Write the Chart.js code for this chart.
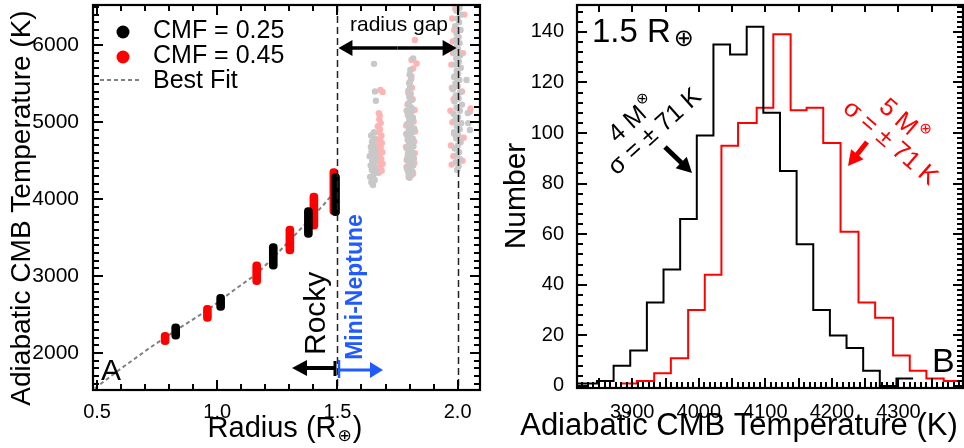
<!DOCTYPE html>
<html>
<head>
<meta charset="utf-8">
<title>Adiabatic CMB temperature</title>
<script src="https://cdn.jsdelivr.net/npm/chart.js@4.4.1/dist/chart.umd.min.js"></script>
<style>
  body { margin: 0; background: #fff; }
  #panels { position: relative; width: 964px; height: 448px; }
  canvas { position: absolute; top: 0; }
  #panelA { left: 0; }
  #panelB { left: 490px; }
</style>
</head>
<body>
<div id="panels">
  <canvas id="panelA" width="490" height="448"></canvas>
  <canvas id="panelB" width="474" height="448"></canvas>
</div>
<script>
// ---------- panel A: CMB temperature vs radius ----------
const radiusTicks = [0.5, 1.0, 1.5, 2.0];
const radiusTickLabels = ['0.5', '1.0', '1.5', '2.0'];
const tempTicks = [2000, 3000, 4000, 5000, 6000];
const gapRadius = [1.5, 2.0];

// rocky planets: spread of CMB temperature at each radius
const cmf25Radius = [0.827, 1.014, 1.233, 1.379, 1.492];
const cmf25Low = [2180, 2555, 3090, 3505, 3785];
const cmf25High = [2380, 2765, 3425, 3890, 4335];
const cmf45Radius = [0.783, 0.959, 1.164, 1.302, 1.402, 1.485];
const cmf45Low = [2110, 2410, 2890, 3290, 3610, 3800];
const cmf45High = [2270, 2620, 3185, 3650, 4080, 4400];

// best fit curve
const fitRadius = [0.49, 0.60, 0.72, 0.83, 0.96, 1.07, 1.16, 1.23, 1.30, 1.37, 1.44, 1.50];
const fitTemp = [1540, 1800, 2070, 2300, 2560, 2820, 3020, 3230, 3460, 3690, 3920, 4140];

// mini-Neptunes (faded): CMF = 0.25 grey, CMF = 0.45 pink
const greyPoints = [
  [1.648, 4185], [1.641, 4220], [1.655, 4250], [1.636, 4290], [1.650, 4320], [1.662, 4350],
  [1.643, 4380], [1.657, 4410], [1.638, 4440], [1.651, 4470], [1.645, 4500], [1.660, 4530],
  [1.634, 4560], [1.653, 4590], [1.642, 4620], [1.658, 4650], [1.639, 4680], [1.649, 4710],
  [1.644, 4750], [1.655, 4790], [1.640, 4830], [1.652, 4870], [1.660, 5280], [1.656, 5400],
  [1.652, 5760],
  [1.800, 4280], [1.806, 4310], [1.795, 4340], [1.812, 4360], [1.790, 4390], [1.803, 4410],
  [1.815, 4440], [1.797, 4460], [1.808, 4490], [1.788, 4510], [1.818, 4530], [1.801, 4560],
  [1.793, 4590], [1.811, 4610], [1.804, 4640], [1.789, 4660], [1.816, 4690], [1.798, 4710],
  [1.807, 4740], [1.792, 4770], [1.813, 4790], [1.800, 4820], [1.786, 4850], [1.810, 4870],
  [1.796, 4900], [1.819, 4920], [1.803, 4950], [1.791, 4980], [1.809, 5000], [1.799, 5030],
  [1.814, 5060], [1.794, 5090], [1.806, 5120], [1.788, 5150], [1.811, 5180], [1.801, 5210],
  [1.796, 5250], [1.808, 5290], [1.799, 5330], [1.805, 5370], [1.795, 5410], [1.802, 5460],
  [1.798, 5510], [1.806, 5560], [1.800, 5620], [1.803, 5680], [1.815, 5830],
  [1.998, 4380], [2.004, 4430], [1.992, 4480], [2.010, 4520], [1.996, 4570], [2.006, 4610],
  [1.988, 4660], [2.001, 4700], [2.012, 4740], [1.994, 4790], [2.003, 4830], [1.985, 4870],
  [2.008, 4910], [1.997, 4950], [2.015, 4990], [1.990, 5030], [2.002, 5070], [1.983, 5110],
  [2.009, 5150], [1.995, 5190], [2.018, 5230], [1.987, 5270], [2.004, 5310], [1.993, 5350],
  [2.011, 5390], [1.980, 5430], [2.000, 5470], [1.991, 5510], [2.007, 5550], [1.985, 5590],
  [2.002, 5630], [1.996, 5670], [2.013, 5710], [1.989, 5750], [2.005, 5790], [1.994, 5830],
  [2.010, 5870], [1.986, 5910], [2.001, 5950], [1.998, 5990], [2.008, 6030], [1.992, 6070],
  [2.004, 6110], [1.996, 6150], [2.012, 6200], [1.990, 6250], [2.006, 6300], [1.999, 6350],
  [2.015, 6400], [1.995, 6450], [2.008, 6490],
  [2.037, 5550], [2.044, 4990], [2.051, 4900], [2.042, 5120]
];
const pinkPoints = [
  [1.672, 4345], [1.684, 4370], [1.667, 4400], [1.679, 4430], [1.688, 4460], [1.670, 4490],
  [1.682, 4520], [1.665, 4550], [1.676, 4580], [1.687, 4610], [1.669, 4640], [1.680, 4670],
  [1.673, 4700], [1.685, 4730], [1.666, 4760], [1.678, 4790], [1.683, 4830], [1.671, 4870],
  [1.677, 4910], [1.668, 4950], [1.680, 4990], [1.674, 5040], [1.676, 5090], [1.672, 5120],
  [1.679, 5420], [1.688, 5395],
  [1.796, 4290], [1.815, 4330], [1.787, 4420], [1.820, 4470], [1.792, 4550], [1.822, 4600],
  [1.785, 4680], [1.819, 4750], [1.790, 4830], [1.823, 4880], [1.786, 4960], [1.817, 5010],
  [1.793, 5100], [1.821, 5160], [1.791, 5230], [1.813, 5300], [1.795, 5380], [1.810, 5450],
  [1.801, 5520], [1.808, 5600], [1.815, 5700], [1.808, 5810], [1.829, 5765], [1.822, 6070],
  [1.975, 4450], [1.982, 4560], [1.972, 4700], [1.985, 4850], [1.978, 5000], [1.970, 5150],
  [1.983, 5300], [1.976, 5450], [1.988, 5600], [1.974, 5750], [1.981, 5900], [1.979, 6050],
  [1.986, 6200], [1.977, 6350], [1.990, 6480], [2.020, 4500], [2.025, 4800], [2.018, 5400],
  [2.022, 5900], [2.051, 5140], [2.054, 5180], [2.028, 6400]
];

// ---------- panel B: histograms at 1.5 Earth radii ----------
const histTempTicks = [3900, 4000, 4100, 4200, 4300];
const countTicks = [0, 20, 40, 60, 80, 100, 120, 140];
const mass4Edges = [3797, 3822, 3847, 3872, 3897, 3922, 3947, 3972, 3997, 4022, 4047,
  4072, 4097, 4122, 4147, 4172, 4197, 4222, 4247, 4272, 4297, 4322];
const mass4Counts = [1, 1, 2, 8, 14, 33, 46, 66, 99, 135, 131, 142, 108, 85, 56, 30, 20, 15, 6, 0, 3];
const mass5Edges = [3883, 3907, 3933, 3958, 3984, 4009, 4034, 4059, 4087, 4112, 4138,
  4162, 4187, 4213, 4240, 4265, 4292, 4317, 4342, 4368, 4393];
const mass5Counts = [1, 2, 5, 11, 30, 44, 95, 104, 110, 139, 109, 110, 96, 61, 33, 27, 12, 6, 3, 2];

const FAMILY = '"Liberation Sans", Arial, Helvetica, sans-serif';
const SYMBOLS = '"DejaVu Sans", sans-serif';
const font = (size, bold) => (bold ? 'bold ' : '') + size + 'px ' + FAMILY;
const symFont = size => size + 'px ' + SYMBOLS;

// step outline of a histogram: one point per bin edge
function steps(edges, counts) {
  return edges.map((e, i) => ({ x: e, y: counts[Math.min(i, counts.length - 1)] }));
}

// fixed axis box, no extra room for half labels at the ends
function fixBox(size, horizontal) {
  return s => {
    if (horizontal) s.height = size; else s.width = size;
    s.paddingTop = 0; s.paddingBottom = 0; s.paddingLeft = 0; s.paddingRight = 0;
  };
}

function axis(min, max, values, labels, size, pad, fit) {
  return {
    type: 'linear', min: min, max: max, offset: false, beginAtZero: false,
    grid: { display: false, offset: false },
    border: { display: false },
    afterBuildTicks: s => { s.ticks = values.map(v => ({ value: v })); },
    afterFit: fit,
    ticks: {
      autoSkip: false, maxRotation: 0, padding: pad, color: '#000',
      font: { family: FAMILY, size: size },
      callback: (v, i) => labels[i]
    }
  };
}

// text made of pieces (for sub/superscripts), optionally rotated
function richText(ctx, parts, x, y, angle, align) {
  ctx.save();
  ctx.translate(x, y);
  ctx.rotate(angle || 0);
  ctx.textAlign = 'left';
  let w = 0;
  parts.forEach(p => { ctx.font = p.font; p.w = ctx.measureText(p.text).width + (p.gap || 0); w += p.w; });
  let cx = align === 'center' ? -w / 2 : (align === 'right' ? -w : 0);
  parts.forEach(p => {
    ctx.font = p.font;
    ctx.fillText(p.text, cx + (p.gap || 0), p.dy || 0);
    cx += p.w;
  });
  ctx.restore();
}

function arrow(ctx, x0, y0, x1, y1, color, width, headLen, headHalf) {
  const a = Math.atan2(y1 - y0, x1 - x0);
  const bx = x1 - headLen * Math.cos(a), by = y1 - headLen * Math.sin(a);
  ctx.save();
  ctx.strokeStyle = color; ctx.fillStyle = color; ctx.lineWidth = width; ctx.setLineDash([]);
  ctx.beginPath(); ctx.moveTo(x0, y0); ctx.lineTo(bx + Math.cos(a), by + Math.sin(a)); ctx.stroke();
  ctx.beginPath(); ctx.moveTo(x1, y1);
  ctx.lineTo(bx - headHalf * Math.sin(a), by + headHalf * Math.cos(a));
  ctx.lineTo(bx + headHalf * Math.sin(a), by - headHalf * Math.cos(a));
  ctx.closePath(); ctx.fill();
  ctx.restore();
}

const isMul = (v, m) => Math.abs(v / m - Math.round(v / m)) < 1e-6;

// inward tick marks along one side of the frame
function tickMarks(ctx, scale, step, isMajor, edge, dir, horizontal, lenMajor, lenMinor) {
  const n0 = Math.ceil(scale.min / step - 1e-6), n1 = Math.floor(scale.max / step + 1e-6);
  ctx.save();
  ctx.fillStyle = '#000';
  for (let k = n0; k <= n1; k++) {
    const v = k * step;
    const p = Math.round(scale.getPixelForValue(v));
    const len = isMajor(v) ? lenMajor : lenMinor;
    if (horizontal) ctx.fillRect(p - 1, dir > 0 ? edge : edge - len, 2, len);
    else ctx.fillRect(dir > 0 ? edge : edge - len, p - 1, len, 2);
  }
  ctx.restore();
}

function frame(ctx, a) {
  ctx.save();
  ctx.setLineDash([]);
  ctx.strokeStyle = '#000';
  ctx.lineWidth = 2.2;
  ctx.strokeRect(a.left, a.top, a.right - a.left, a.bottom - a.top);
  ctx.restore();
}

const panelAExtras = {
  id: 'panelAExtras',
  afterDraw(chart) {
    const { ctx, chartArea: a, scales: { x, y } } = chart;
    ctx.save();
    ctx.strokeStyle = '#000'; ctx.fillStyle = '#000';

    // radius gap boundaries
    ctx.save();
    ctx.strokeStyle = '#222'; ctx.lineWidth = 1.5; ctx.setLineDash([7, 4]);
    gapRadius.forEach(r => {
      const px = Math.round(x.getPixelForValue(r)) + 0.5;
      ctx.beginPath(); ctx.moveTo(px, a.top); ctx.lineTo(px, a.bottom); ctx.stroke();
    });
    ctx.restore();

    frame(ctx, a);
    tickMarks(ctx, x, 0.1, v => isMul(v, 0.5), a.bottom, -1, true, 10, 6);
    tickMarks(ctx, x, 0.1, v => isMul(v, 0.5), a.top, 1, true, 10, 6);
    tickMarks(ctx, y, 100, v => isMul(v, 1000), a.left, 1, false, 10, 6);
    tickMarks(ctx, y, 100, v => isMul(v, 1000), a.right, -1, false, 10, 6);

    // radius gap arrow
    const g0 = x.getPixelForValue(gapRadius[0]), g1 = x.getPixelForValue(gapRadius[1]);
    const gm = (g0 + g1) / 2;
    arrow(ctx, gm, 48, g0 + 1, 48, '#000', 3.5, 14, 8);
    arrow(ctx, gm, 48, g1 - 1, 48, '#000', 3.5, 14, 8);
    ctx.textBaseline = 'alphabetic';
    ctx.textAlign = 'center';
    ctx.font = font(21);
    ctx.fillText('radius gap', 399, 31);

    // legend
    ctx.beginPath(); ctx.arc(123, 32, 6.5, 0, Math.PI * 2); ctx.fill();
    ctx.fillStyle = '#ff0000';
    ctx.beginPath(); ctx.arc(123, 57, 6.5, 0, Math.PI * 2); ctx.fill();
    ctx.save();
    ctx.strokeStyle = '#808080'; ctx.lineWidth = 2; ctx.setLineDash([4, 3]);
    ctx.beginPath(); ctx.moveTo(100, 80); ctx.lineTo(139, 80); ctx.stroke();
    ctx.restore();
    ctx.fillStyle = '#000';
    ctx.textAlign = 'left';
    ctx.font = font(25);
    ctx.fillText('CMF = 0.25', 153, 38);
    ctx.fillText('CMF = 0.45', 153, 63);
    ctx.fillText('Best Fit', 153, 88);

    // panel letter
    ctx.font = font(30);
    ctx.fillText('A', 101, 380);

    // rocky / mini-Neptune arrows
    ctx.lineWidth = 3;
    ctx.beginPath(); ctx.moveTo(335, 361); ctx.lineTo(335, 376); ctx.stroke();
    arrow(ctx, 335, 368, 292, 368, '#000', 4, 15, 8);
    ctx.strokeStyle = '#1f5bff';
    ctx.lineWidth = 2.5;
    ctx.beginPath(); ctx.moveTo(339, 360); ctx.lineTo(339, 378); ctx.stroke();
    arrow(ctx, 339, 370, 383, 370, '#1f5bff', 3, 13, 8);

    ctx.save();
    ctx.translate(325, 355); ctx.rotate(-Math.PI / 2);
    ctx.fillStyle = '#000'; ctx.font = font(30); ctx.textAlign = 'left';
    ctx.fillText('Rocky', 0, 0);
    ctx.restore();
    ctx.save();
    ctx.translate(362, 287); ctx.rotate(-Math.PI / 2);
    ctx.fillStyle = '#1f5bff'; ctx.font = font(23, true); ctx.textAlign = 'center';
    ctx.fillText('Mini-Neptune', 0, 0);
    ctx.restore();

    // axis titles
    ctx.fillStyle = '#000';
    ctx.save();
    ctx.translate(30, 208); ctx.rotate(-Math.PI / 2);
    ctx.font = font(28); ctx.textAlign = 'center';
    ctx.fillText('Adiabatic CMB Temperature (K)', 0, 0);
    ctx.restore();
    richText(ctx, [
      { text: 'Radius (R', font: font(29) },
      { text: '\u2295', font: symFont(17), dy: 4, gap: 1 },
      { text: ')', font: font(29), gap: 1 }
    ], 285, 437, 0, 'center');
    ctx.restore();
  }
};

const panelBExtras = {
  id: 'panelBExtras',
  afterDraw(chart) {
    const { ctx, chartArea: a, scales: { x, y } } = chart;
    ctx.save();
    ctx.strokeStyle = '#000'; ctx.fillStyle = '#000';
    frame(ctx, a);
    tickMarks(ctx, x, 100 / 12, v => isMul(v, 50), a.bottom, -1, true, 10, 6);
    tickMarks(ctx, x, 50, v => true, a.top, 1, true, 7, 7);
    tickMarks(ctx, y, 4, v => isMul(v, 20), a.left, 1, false, 10, 6);
    tickMarks(ctx, y, 2, v => isMul(v, 20), a.right, -1, false, 10, 6);

    ctx.textBaseline = 'alphabetic';
    richText(ctx, [
      { text: '1.5 R', font: font(33) },
      { text: '\u2295', font: symFont(24), dy: 4, gap: 3 }
    ], 102, 42, 0, 'left');
    ctx.font = font(34);
    ctx.textAlign = 'left';
    ctx.fillText('B', 442, 372);

    // 4 Earth-mass annotation
    const left = -42 * Math.PI / 180, right = 41 * Math.PI / 180;
    ctx.textBaseline = 'middle';
    richText(ctx, [
      { text: '4 M', font: font(25) },
      { text: '\u2297', font: symFont(15), dy: -9, gap: 1 }
    ], 143, 120, left, 'center');
    richText(ctx, [{ text: '\u03c3 = \u00b1 71 K', font: font(25) }], 165, 132, left, 'center');
    arrow(ctx, 175, 147, 202, 173, '#000', 5, 15, 8);

    // 5 Earth-mass annotation
    ctx.fillStyle = '#ff0000';
    richText(ctx, [
      { text: '5 M', font: font(25) },
      { text: '\u2297', font: symFont(15), dy: -9, gap: 1 }
    ], 413, 122, right, 'center');
    richText(ctx, [{ text: '\u03c3 = \u00b1 71 K', font: font(25) }], 400, 143, right, 'center');
    arrow(ctx, 377, 142, 358, 166, '#ff0000', 5, 15, 8);

    // axis titles
    ctx.fillStyle = '#000';
    ctx.textBaseline = 'alphabetic';
    ctx.save();
    ctx.translate(35, 196); ctx.rotate(-Math.PI / 2);
    ctx.font = font(30); ctx.textAlign = 'center';
    ctx.fillText('Number', 0, 0);
    ctx.restore();
    ctx.font = font(31); ctx.textAlign = 'center';
    ctx.fillText('Adiabatic CMB Temperature (K)', 249, 435);
    ctx.restore();
  }
};

new Chart(document.getElementById('panelA'), {
  type: 'scatter',
  data: {
    datasets: [
      {
        type: 'bar', label: 'CMF = 0.25',
        data: cmf25Radius.map((r, i) => ({ x: r, y: [cmf25Low[i], cmf25High[i]] })),
        backgroundColor: '#000', barThickness: 8, borderRadius: 4, borderSkipped: false,
        grouped: false, order: 1
      },
      {
        type: 'bar', label: 'CMF = 0.45',
        data: cmf45Radius.map((r, i) => ({ x: r, y: [cmf45Low[i], cmf45High[i]] })),
        backgroundColor: '#ff0000', barThickness: 8, borderRadius: 4, borderSkipped: false,
        grouped: false, order: 2
      },
      {
        label: 'Mini-Neptune, CMF = 0.25',
        data: greyPoints.map(p => ({ x: p[0], y: p[1] })),
        backgroundColor: '#c8c8c8', pointRadius: 3.2, pointBorderWidth: 0, order: 3
      },
      {
        label: 'Mini-Neptune, CMF = 0.45',
        data: pinkPoints.map(p => ({ x: p[0], y: p[1] })),
        backgroundColor: '#ffb4b4', pointRadius: 3.2, pointBorderWidth: 0, order: 4
      },
      {
        type: 'line', label: 'Best Fit',
        data: fitRadius.map((r, i) => ({ x: r, y: fitTemp[i] })),
        borderColor: '#808080', borderWidth: 2, borderDash: [4, 3],
        pointRadius: 0, fill: false, tension: 0, order: 5
      }
    ]
  },
  options: {
    responsive: false, animation: false, devicePixelRatio: 1,
    layout: { padding: { top: 5, right: 10, bottom: 0, left: 0 } },
    plugins: { legend: { display: false }, tooltip: { enabled: false } },
    scales: {
      x: axis(0.483, 2.093, radiusTicks, radiusTickLabels, 20, 2, fixBox(58, true)),
      y: axis(1520, 6525, tempTicks, tempTicks.map(String), 21, 6, fixBox(93, false))
    }
  },
  plugins: [panelAExtras]
});

new Chart(document.getElementById('panelB'), {
  type: 'line',
  data: {
    datasets: [
      {
        label: '4 M', data: steps(mass4Edges, mass4Counts),
        borderColor: '#000', borderWidth: 2, stepped: true, pointRadius: 0, fill: false
      },
      {
        label: '5 M', data: steps(mass5Edges, mass5Counts),
        borderColor: '#ff0000', borderWidth: 2, stepped: true, pointRadius: 0, fill: false
      }
    ]
  },
  options: {
    responsive: false, animation: false, devicePixelRatio: 1,
    layout: { padding: { top: 5, right: 1, bottom: 0, left: 0 } },
    plugins: { legend: { display: false }, tooltip: { enabled: false } },
    scales: {
      x: axis(3817, 4397, histTempTicks, histTempTicks.map(String), 20, 4, fixBox(60, true)),
      y: axis(-0.8, 150.6, countTicks, countTicks.map(String), 20, 5, fixBox(87, false))
    }
  },
  plugins: [panelBExtras]
});
</script>
</body>
</html>
